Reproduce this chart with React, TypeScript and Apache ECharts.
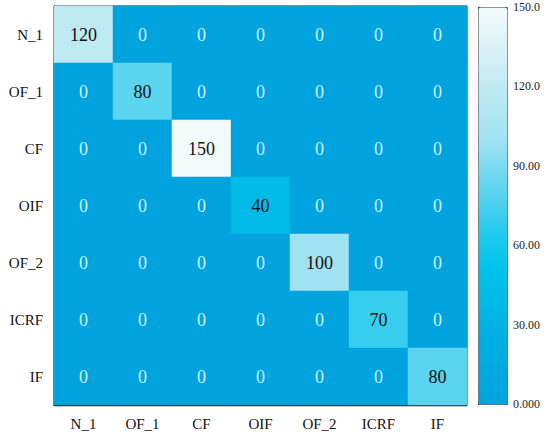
import React, { useEffect, useRef } from "react";
import * as echarts from "echarts";

const categories = ["N_1", "OF_1", "CF", "OIF", "OF_2", "ICRF", "IF"];
const row_N_1 = [120, 0, 0, 0, 0, 0, 0];
const row_OF_1 = [0, 80, 0, 0, 0, 0, 0];
const row_CF = [0, 0, 150, 0, 0, 0, 0];
const row_OIF = [0, 0, 0, 40, 0, 0, 0];
const row_OF_2 = [0, 0, 0, 0, 100, 0, 0];
const row_ICRF = [0, 0, 0, 0, 0, 70, 0];
const row_IF = [0, 0, 0, 0, 0, 0, 80];
const rows = [row_N_1, row_OF_1, row_CF, row_OIF, row_OF_2, row_ICRF, row_IF];
const colorbarMin = 0;
const colorbarMax = 150;
const colorbarStep = 30;

const FONT = "Liberation Serif";

export default function App() {
  const ref = useRef<HTMLDivElement>(null);
  useEffect(() => {
    if (!ref.current) return;
    const chart = echarts.init(ref.current, null, { renderer: "svg" });
    const data: any[] = [];
    rows.forEach((r, yi) =>
      r.forEach((v, xi) =>
        data.push({
          value: [xi, yi, v],
          label: { color: v === 0 ? "#c9f1ff" : "#111" },
        })
      )
    );
    chart.setOption({
      animation: false,
      backgroundColor: "#fff",
      grid: [
        { left: 54, top: 6, width: 413, height: 399, show: true, borderColor: "#222", borderWidth: 1, backgroundColor: "#00a4df" },
        { left: 478, top: 7, width: 29, height: 397, show: false },
      ],
      xAxis: [
        {
          type: "category",
          data: categories,
          gridIndex: 0,
          splitLine: { show: false },
          splitArea: { show: false },
          axisLine: { lineStyle: { color: "#222", width: 1.3 } },
          axisTick: { alignWithLabel: true, length: 6, lineStyle: { color: "#222", width: 1.3 } },
          axisLabel: { fontFamily: FONT, fontSize: 15, color: "#111", margin: 11 },
        },
        { type: "value", gridIndex: 1, show: false, min: 0, max: 1, splitLine: { show: false } },
      ],
      yAxis: [
        {
          type: "category",
          data: categories,
          inverse: true,
          gridIndex: 0,
          splitLine: { show: false },
          splitArea: { show: false },
          axisLine: { lineStyle: { color: "#222", width: 1.3 } },
          axisTick: { alignWithLabel: true, length: 6, lineStyle: { color: "#222", width: 1.3 } },
          axisLabel: { fontFamily: FONT, fontSize: 15, color: "#111", margin: 11 },
        },
        {
          type: "value",
          gridIndex: 1,
          position: "right",
          min: colorbarMin,
          max: colorbarMax,
          interval: colorbarStep,
          splitLine: { show: false },
          axisLine: { show: true, lineStyle: { color: "#555", width: 1 } },
          axisTick: { show: true, length: 6, inside: false, lineStyle: { color: "#444", width: 1 } },
          axisLabel: {
            fontFamily: FONT,
            fontSize: 12,
            color: "#222",
            margin: 6,
            formatter: (v: number) => v.toPrecision(4),
          },
        },
      ],
      visualMap: {
        type: "continuous",
        seriesIndex: 0,
        min: colorbarMin,
        max: colorbarMax,
        calculable: false,
        orient: "vertical",
        left: 478,
        top: 7,
        itemWidth: 29,
        itemHeight: 397,
        padding: 0,
        borderWidth: 1,
        borderColor: "#555",
        inRange: {
          color: [
            "#00a3de", "#00a8e0", "#00ace2", "#00b2e4", "#00bae7", "#00c1ea",
            "#14c9ec", "#36cdee", "#5ad4ef", "#7ddbf0", "#a0e2f2", "#b0e6f3",
            "#bfeaf4", "#d2eff6", "#e2f5f7", "#f2fafa",
          ],
        },
      },
      series: [
        {
          type: "heatmap",
          xAxisIndex: 0,
          yAxisIndex: 0,
          data,
          label: { show: true, fontFamily: FONT, fontSize: 18 },
          itemStyle: { borderWidth: 0 },
          emphasis: { disabled: true },
        },
        { type: "line", xAxisIndex: 1, yAxisIndex: 1, data: [], silent: true },
      ],
    });
    return () => chart.dispose();
  }, []);
  return (
    <div
      ref={ref}
      style={{ position: "absolute", left: 0, top: 0, width: 550, height: 441 }}
    />
  );
}
